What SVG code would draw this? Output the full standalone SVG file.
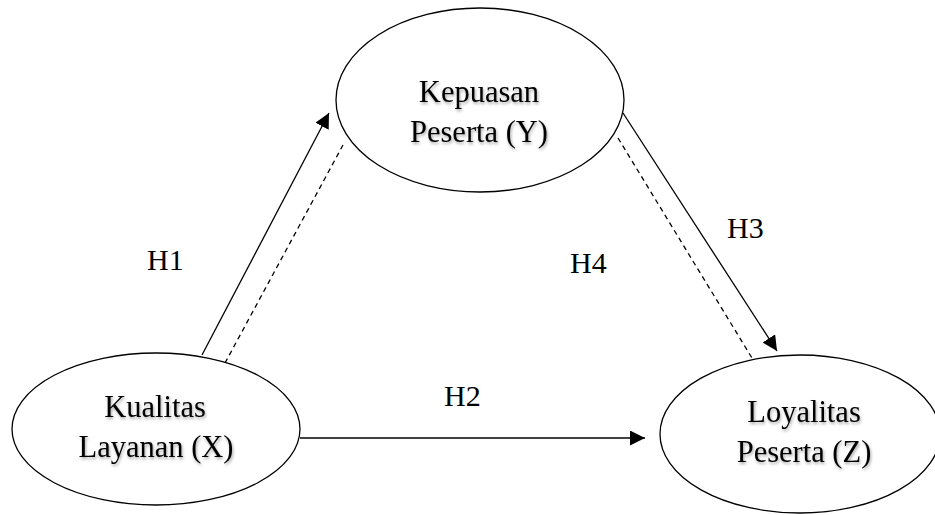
<svg xmlns="http://www.w3.org/2000/svg" width="935" height="515" viewBox="0 0 935 515">
<style>
.node{fill:#fff;stroke:#000;stroke-width:1.3}
.lbl{font-family:"Liberation Serif","Times New Roman",serif;font-size:30.5px;fill:#000;text-anchor:middle}
.nt{filter:url(#sh)}
.h{font-family:"Liberation Serif","Times New Roman",serif;font-size:30px;fill:#000}
.solid{stroke:#000;stroke-width:1.3;fill:none}
.dash{stroke:#000;stroke-width:1.3;fill:none;stroke-dasharray:5 4}
</style>
<defs>
<marker id="ah" viewBox="0 0 10 10" refX="10" refY="5" markerWidth="15" markerHeight="15" markerUnits="userSpaceOnUse" orient="auto"><path d="M0,0 L10,5 L0,10 Z" fill="#000"/></marker>
<filter id="sh" x="-20%" y="-30%" width="140%" height="160%"><feDropShadow dx="1" dy="2" stdDeviation="1.5" flood-color="#000" flood-opacity="0.35"/></filter>
</defs>
<rect width="935" height="515" fill="#fff"/>
<g id="connectors">
<line class="solid" x1="202" y1="355" x2="329" y2="113" marker-end="url(#ah)"/>
<line class="dash" x1="225" y1="363" x2="343" y2="145"/>
<line class="solid" x1="623" y1="113" x2="777" y2="351" marker-end="url(#ah)"/>
<line class="dash" x1="618" y1="138" x2="752" y2="358"/>
<line class="solid" x1="300" y1="438" x2="645" y2="438" marker-end="url(#ah)"/>
</g>
<g id="nodeY">
<ellipse class="node" cx="480" cy="100" rx="144" ry="92"/>
<g class="nt"><text class="lbl" x="479" y="102">Kepuasan</text><text class="lbl" x="479" y="142">Peserta (Y)</text></g>
</g>
<g id="nodeX">
<ellipse class="node" cx="156" cy="429" rx="144" ry="76"/>
<g class="nt"><text class="lbl" x="155" y="417">Kualitas</text><text class="lbl" x="156" y="457">Layanan (X)</text></g>
</g>
<g id="nodeZ">
<ellipse class="node" cx="800" cy="434" rx="140" ry="79"/>
<g class="nt"><text class="lbl" x="804" y="422">Loyalitas</text><text class="lbl" x="804" y="462">Peserta (Z)</text></g>
</g>
<g id="labels">
<text class="h" x="147" y="270">H1</text>
<text class="h" x="444" y="406">H2</text>
<text class="h" x="727" y="238">H3</text>
<text class="h" x="570" y="273">H4</text>
</g>
</svg>
